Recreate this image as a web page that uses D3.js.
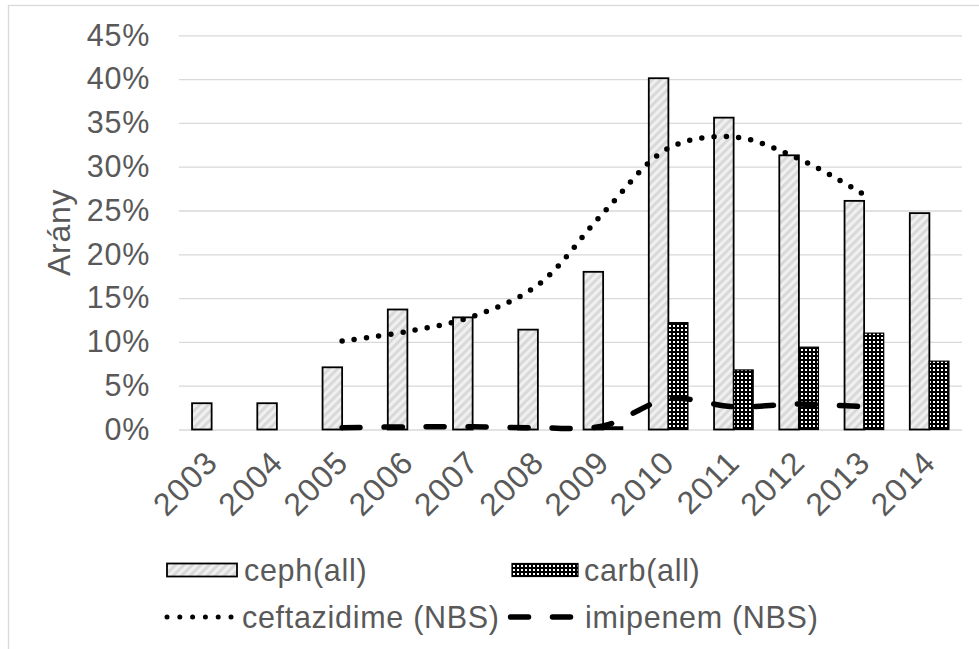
<!DOCTYPE html>
<html>
<head>
<meta charset="utf-8">
<script src="https://cdn.jsdelivr.net/npm/d3@7"></script>
<style>
  html, body { margin: 0; padding: 0; background: #fff; }
  svg { display: block; }
  text { font-family: "Liberation Sans", Arial, sans-serif; fill: #595959; }
</style>
</head>
<body>
<svg id="chart" width="979" height="649"></svg>
<script>
// ---- data ----
const years = ["2003","2004","2005","2006","2007","2008","2009","2010","2011","2012","2013","2014"];
const cephAll = [3.0, 3.0, 7.1, 13.7, 12.8, 11.4, 18.0, 40.1, 35.6, 31.3, 26.1, 24.7];
const carbAll = [null, null, null, null, null, null, 0.3, 12.2, 6.8, 9.4, 11.0, 7.8];
const ceftazidimeNBS = [null, null, 10.1, 11.2, 12.9, 16.5, 24.7, 32.1, 33.4, 30.9, 26.8, null];
const imipenemNBS = [null, null, 0.2, 0.3, 0.3, 0.2, 0.4, 3.5, 2.6, 2.9, 2.6, null];
const yTicks = [0, 5, 10, 15, 20, 25, 30, 35, 40, 45];
const yTitle = "Arány";
const legendLabels = ["ceph(all)", "carb(all)", "ceftazidime (NBS)", "imipenem (NBS)"];

// ---- layout ----
const svg = d3.select("#chart");
const plot = { left: 179, right: 962, top: 35.3, bottom: 429.5 };
const fontSize = 30.5;
const ls = "0.7px";

// chart border
svg.append("rect").attr("x", 8.5).attr("y", 5.5).attr("width", 990).attr("height", 700)
  .attr("fill", "#fff").attr("stroke", "#d9d9d9").attr("stroke-width", 1.3);

// patterns
const defs = svg.append("defs");
const pc = defs.append("pattern").attr("id", "ceph").attr("patternUnits", "userSpaceOnUse")
  .attr("width", 6).attr("height", 6).attr("patternTransform", "rotate(45)");
pc.append("rect").attr("width", 6).attr("height", 6).attr("fill", "#f0f0f0");
pc.append("rect").attr("width", 3).attr("height", 6).attr("fill", "#d9d9d9");
const pb = defs.append("pattern").attr("id", "carb").attr("patternUnits", "userSpaceOnUse")
  .attr("width", 4).attr("height", 4);
pb.append("rect").attr("width", 4).attr("height", 4).attr("fill", "#000");
pb.append("rect").attr("x", 1).attr("y", 1).attr("width", 2).attr("height", 2).attr("fill", "#fff");

// scales
const x = d3.scaleBand().domain(years).range([plot.left, plot.right]).paddingInner(0.4).paddingOuter(0.2);
const xs = d3.scaleBand().domain(["ceph", "carb"]).range([0, x.bandwidth()]);
const xc = d => x(d) + x.bandwidth() / 2;
const y = d3.scaleLinear().domain([0, 45]).range([plot.bottom, plot.top]);

// gridlines + y axis
const yAxis = d3.axisLeft(y).tickValues(yTicks).tickSize(-(plot.right - plot.left))
  .tickFormat(d => d + "%").tickPadding(29);
const gy = svg.append("g").attr("transform", `translate(${plot.left},0)`).call(yAxis);
gy.select(".domain").remove();
gy.selectAll(".tick line").attr("stroke", "#d9d9d9").attr("stroke-width", 1.3);
gy.selectAll(".tick text").attr("font-size", fontSize).attr("fill", "#595959")
  .attr("letter-spacing", ls)
  .attr("font-family", "Liberation Sans, Arial, sans-serif");

// y title
svg.append("text").attr("transform", `translate(70,${(plot.top + plot.bottom) / 2}) rotate(-90)`)
  .attr("text-anchor", "middle").attr("font-size", 32).attr("letter-spacing", ls).text(yTitle);

// x axis labels
const gx = svg.append("g").attr("transform", `translate(0,${plot.bottom})`)
  .call(d3.axisBottom(x).tickSize(0).tickPadding(0));
gx.select(".domain").remove();
gx.selectAll(".tick text")
  .attr("font-size", 32).attr("fill", "#595959").attr("letter-spacing", "1px")
  .attr("font-family", "Liberation Sans, Arial, sans-serif")
  .attr("text-anchor", "end")
  .attr("dy", 0).attr("y", 0)
  .attr("transform", "translate(8,35) rotate(-45)");

// bars
const bars = svg.append("g");
years.forEach((yr, i) => {
  if (cephAll[i] != null) {
    bars.append("rect").attr("x", x(yr) + xs("ceph")).attr("width", xs.bandwidth())
      .attr("y", y(cephAll[i])).attr("height", y(0) - y(cephAll[i]))
      .attr("fill", "url(#ceph)").attr("stroke", "#000").attr("stroke-width", 1.8);
  }
  if (carbAll[i] != null) {
    bars.append("rect").attr("x", x(yr) + xs("carb")).attr("width", xs.bandwidth())
      .attr("y", y(carbAll[i])).attr("height", y(0) - y(carbAll[i]))
      .attr("fill", "url(#carb)").attr("stroke", "#000").attr("stroke-width", 1.2);
  }
});

// lines
const line = d3.line().defined(d => d.v != null).x(d => xc(d.k)).y(d => y(d.v))
  .curve(d3.curveCatmullRom.alpha(0.5));
const toPts = arr => years.map((k, i) => ({ k, v: arr[i] })).filter(d => d.v != null);

svg.append("path").attr("d", line(toPts(ceftazidimeNBS)))
  .attr("fill", "none").attr("stroke", "#000").attr("stroke-width", 5.5)
  .attr("stroke-linecap", "round").attr("stroke-dasharray", "0,12.3");
svg.append("path").attr("d", line(toPts(imipenemNBS)))
  .attr("fill", "none").attr("stroke", "#000").attr("stroke-width", 5.5)
  .attr("stroke-linecap", "round").attr("stroke-dasharray", "18,24");

// legend
const lg = svg.append("g");
const r1 = 570, r2 = 617;
lg.append("rect").attr("x", 167).attr("y", r1 - 6.5).attr("width", 70).attr("height", 13)
  .attr("fill", "url(#ceph)").attr("stroke", "#000").attr("stroke-width", 1.8);
lg.append("text").attr("x", 244).attr("y", r1).attr("dy", "0.35em").attr("font-size", fontSize).attr("letter-spacing", ls).text(legendLabels[0]);
lg.append("rect").attr("x", 512).attr("y", r1 - 6.5).attr("width", 66).attr("height", 13)
  .attr("fill", "url(#carb)").attr("stroke", "#000").attr("stroke-width", 1.2);
lg.append("text").attr("x", 584).attr("y", r1).attr("dy", "0.35em").attr("font-size", fontSize).attr("letter-spacing", ls).text(legendLabels[1]);
lg.append("line").attr("x1", 167).attr("x2", 232).attr("y1", r2).attr("y2", r2)
  .attr("stroke", "#000").attr("stroke-width", 5).attr("stroke-linecap", "round").attr("stroke-dasharray", "0,12.8");
lg.append("text").attr("x", 242).attr("y", r2).attr("dy", "0.35em").attr("font-size", fontSize).attr("letter-spacing", ls).text(legendLabels[2]);
lg.append("line").attr("x1", 510.5).attr("x2", 572).attr("y1", r2).attr("y2", r2)
  .attr("stroke", "#000").attr("stroke-width", 5.5).attr("stroke-linecap", "round").attr("stroke-dasharray", "18,24");
lg.append("text").attr("x", 585).attr("y", r2).attr("dy", "0.35em").attr("font-size", fontSize).attr("letter-spacing", ls).text(legendLabels[3]);
</script>
</body>
</html>
